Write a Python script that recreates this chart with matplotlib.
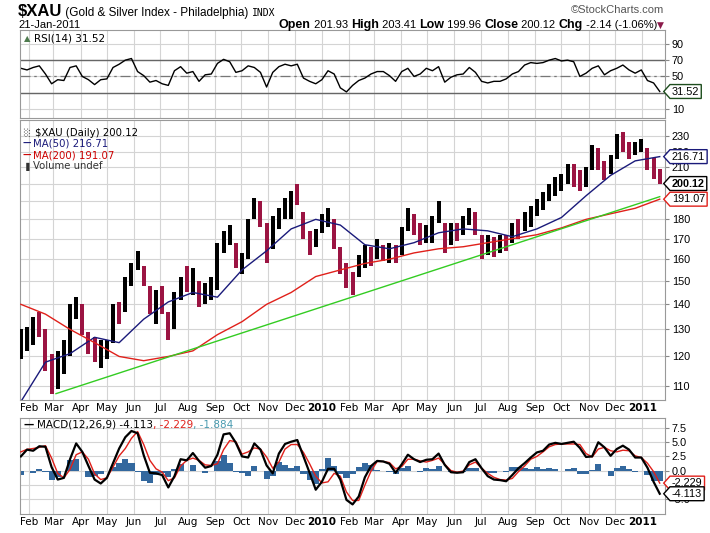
import pandas as pd
import matplotlib
matplotlib.use('Agg')
import matplotlib.pyplot as plt
from matplotlib.path import Path
from matplotlib.ticker import FixedLocator, NullLocator, FuncFormatter

# weekly samples (Fridays)
weeks = pd.date_range('2009-01-23', '2011-01-21', freq='W-FRI')

high = [130, 131, 135, 137, 130, 121, 122, 126, 140, 143,
        140, 129, 127, 126, 126, 140, 141, 152, 158, 164,
        157, 148, 146, 148, 137, 145, 152, 157, 156, 150,
        149, 152, 168, 174, 177, 168, 163, 180, 192, 190,
        178, 182, 186, 192, 196, 200, 184, 174, 175, 183,
        186, 180, 166, 158, 154, 162, 167, 166, 170, 167,
        168, 167, 176, 186, 183, 178, 177, 182, 190, 178,
        178, 178, 182, 186, 184, 172, 172, 171, 172, 172,
        178, 180, 184, 187, 191, 195, 200, 204, 206, 212,
        212, 208, 210, 224, 222, 214, 218, 232, 233, 226,
        226, 228, 222, 216, 209]
low = [119, 122, 124, 127, 115, 107.5, 109, 114, 120, 134,
       128, 121, 118, 116, 119, 125, 132, 137, 148, 155,
       148, 136, 132, 136, 126, 130, 142, 145, 144, 139,
       140, 142, 146, 163, 167, 156, 153, 160, 180, 176,
       158, 165, 175, 180, 180, 188, 170, 162, 166, 173,
       176, 165, 153, 147, 144, 152, 156, 157, 160, 159,
       158, 158, 162, 174, 172, 167, 168, 168, 178, 163,
       167, 169, 172, 177, 172, 160, 162, 161, 163, 164,
       168, 170, 174, 176, 182, 185, 190, 193, 196, 200,
       198, 196, 198, 208, 208, 202, 206, 215, 220, 215,
       218, 220, 208, 203, 199.96]
close = [122, 127, 131, 128, 118, 112, 115, 121, 136, 138,
         130, 125, 122, 123, 123, 138, 136, 150, 156, 159,
         151, 140, 143, 137, 129, 143, 150, 148, 150, 143,
         147, 148, 165, 170, 172, 158, 158, 178, 188, 180,
         162, 180, 183, 190, 192, 190, 172, 165, 173, 181,
         183, 168, 156, 149, 148, 160, 164, 163, 168, 162,
         165, 160, 174, 182, 175, 172, 176, 180, 185, 170,
         176, 172, 180, 182, 176, 162, 168, 163, 170, 166,
         176, 174, 182, 185, 189, 192, 197, 200, 204, 208,
         205, 199, 207, 220, 211, 208, 214, 228, 224, 220,
         224, 225, 210, 208, 200.12]

# moving averages, every fourth week
ma_dates = weeks[::4]
ma50 = [105, 118, 121, 127, 125, 134, 141, 145, 143, 155, 164, 175, 180, 177,
        167, 165, 168, 173, 175, 174, 171, 175, 181, 193, 205, 214, 216.71]
ma200 = [140, 136, 130, 125, 120, 118.5, 120, 122, 128, 133, 140, 145, 152, 155,
         158, 160, 163, 165, 166, 168, 170, 172, 175.5, 180, 183, 186, 191.07]

trend_dates = pd.to_datetime(['2009-03-04', '2011-01-21'])
trend_vals = [107.5, 192.5]

rsi = [60, 58, 61, 63, 53, 41, 46, 45, 61, 63,
       50, 46, 40, 46, 47, 61, 65, 70, 72, 56,
       51, 43, 45, 41, 39, 57, 62, 54, 56, 44,
       52, 53, 66, 71, 68, 55, 57, 63, 61, 55,
       37, 55, 62, 65, 63, 65, 48, 44, 41, 46,
       57, 53, 36, 31, 39, 45, 48, 53, 56, 56,
       51, 44, 56, 60, 50, 53, 60, 57, 62, 43,
       49, 52, 53, 61, 55, 44, 42, 44, 44, 47,
       53, 56, 64, 67, 66, 67, 70, 72, 69, 70,
       68, 50, 54, 60, 63, 52, 57, 60, 64, 58,
       54, 58, 45, 42, 31.52]

macd = [2.5, 3.7, 3.5, 4.3, 4.2, 0.6, -1.6, -1.3, 2.0, 4.8,
        3.3, 0.8, -1.6, -2.3, -1.3, 1.3, 3.9, 5.9, 7.0, 6.6,
        2.7, -0.4, -0.5, -0.8, -3.0, -1.0, 2.0, 1.8, 3.1, 1.7,
        0.5, 0.8, 2.8, 6.4, 6.6, 4.9, 2.5, 2.3, 4.8, 3.7,
        0.9, -0.5, 3.0, 4.7, 5.1, 5.4, 2.5, -0.4, -3.4, -2.0,
        0.3, 0.3, -1.6, -5.2, -6.0, -4.6, -1.2, 0.8, 1.7, 1.6,
        1.2, -0.4, 1.1, 2.8, 2.0, 1.5, 1.9, 2.0, 3.0, 1.0,
        -0.3, -0.4, -0.3, 1.5, 2.0, 0.4, -1.0, -1.6, -1.7, -1.9,
        -0.8, 0.4, 1.3, 2.3, 3.2, 3.5, 4.6, 4.9, 4.7, 4.9,
        5.1, 4.0, 2.4, 2.5, 5.0, 4.1, 2.6, 3.8, 4.4, 3.7,
        2.3, 2.3, 0.5, -2.0, -4.113]
signal = [3.3, 3.75, 3.9, 4.1, 4.4, 2.2, -0.5, -1.3, 0.2, 2.8,
          3.3, 2.0, -0.6, -1.6, -1.3, 0.6, 2.6, 3.9, 5.7, 6.9,
          4.6, 1.8, 0.3, -0.3, -1.8, -1.3, 0.8, 1.8, 2.2, 1.8,
          1.0, 0.9, 1.2, 3.7, 5.3, 5.1, 2.9, 3.3, 4.0, 3.8,
          2.4, 0.4, 1.5, 3.8, 4.6, 4.6, 3.2, 1.2, -1.0, -2.2,
          -2.0, -0.5, -1.0, -3.8, -5.3, -5.3, -2.6, -0.1, 1.6, 1.6,
          1.4, 0.3, 0.7, 2.0, 2.0, 1.7, 1.5, 1.8, 2.2, 1.1,
          0.0, -0.3, -0.1, 1.0, 1.5, 0.4, -0.5, -1.2, -1.6, -1.7,
          -1.4, -0.2, 0.8, 2.0, 2.5, 3.3, 4.2, 4.6, 4.7, 4.7,
          4.7, 4.6, 3.0, 2.4, 3.8, 4.1, 3.5, 3.3, 3.6, 3.5,
          2.6, 2.3, 1.3, -0.2, -2.229]
hist = [m - s for m, s in zip(macd, signal)]

price_ticks = [110, 120, 130, 140, 150, 160, 170, 180, 190, 200, 210, 220, 230]
price_hidden = [190, 200]
rsi_ticks = [10, 30, 50, 70, 90]
macd_ticks = [-5.0, -2.5, 0.0, 2.5, 5.0, 7.5]

UP = 'black'
DOWN = '#9b1442'
NAVY = '#1a1a7a'
RED = '#e0201a'
GREEN = '#33cc22'
HISTC = '#33689e'
GRID = '#d4d4d4'

W, H = 710, 533
fig = plt.figure(figsize=(7.1, 5.33), dpi=100)
fig.patch.set_facecolor('white')


def px_axes(top, bottom, left=20, right=665):
    return fig.add_axes([left / W, 1 - bottom / H, (right - left) / W, (bottom - top) / H])


ax_rsi = px_axes(30, 118)
ax = px_axes(120, 400)
ax_m = px_axes(418, 514)

xlim = (pd.Timestamp('2009-01-22'), pd.Timestamp('2011-01-27'))
months = pd.date_range('2009-02-01', '2011-01-01', freq='MS')
month_lbl = [str(d.year) if d.month == 1 else d.strftime('%b') for d in months]


def tagbox(x0, y0, width, height, mutation_size):
    pad = 0.18 * mutation_size
    x0 -= pad
    y0 -= pad
    width += 2 * pad
    height += 2 * pad
    x1, y1 = x0 + width, y0 + height
    tip = x0 - height * 0.45
    verts = [(tip, y0 + height / 2), (x0, y1), (x1, y1), (x1, y0), (x0, y0), (tip, y0 + height / 2)]
    codes = [Path.MOVETO] + [Path.LINETO] * 4 + [Path.CLOSEPOLY]
    return Path(verts, codes)


def tag(a, y, text, ec, bold=False):
    a.annotate(text, xy=(1, y), xycoords=('axes fraction', 'data'),
               xytext=(5, 0), textcoords='offset points', va='center', ha='left',
               fontsize=7.8, family='Liberation Sans',
               fontweight='bold' if bold else 'normal',
               bbox=dict(boxstyle=tagbox, fc='white', ec=ec, lw=1.0),
               annotation_clip=False, zorder=20)


for a in (ax_rsi, ax, ax_m):
    a.set_xlim(*xlim)
    a.set_xticks(months)
    a.grid(True, color=GRID, lw=0.8)
    a.set_axisbelow(True)
    a.yaxis.tick_right()
    a.tick_params(axis='y', labelsize=7.8, length=3, color='#888888', pad=2)
    a.tick_params(axis='x', length=0, pad=2)
    for s in a.spines.values():
        s.set_color('#999999')
        s.set_linewidth(0.8)

# RSI panel
ax_rsi.plot(weeks, rsi, color='black', lw=1.0)
ax_rsi.set_ylim(-1, 107)
ax_rsi.set_yticks(rsi_ticks)
ax_rsi.set_yticklabels(['' if v == 30 else str(v) for v in rsi_ticks])
for lvl in (70, 30):
    ax_rsi.axhline(lvl, color='#666666', lw=1.0, zorder=1)
ax_rsi.axhline(50, color='#777777', lw=0.9, ls='-.', dashes=(8, 3, 2, 3), zorder=1)
ax_rsi.set_xticklabels([])
ax_rsi.text(0.006, 0.9, '\u25b2', transform=ax_rsi.transAxes, fontsize=6, color='#4d7a4d', va='center')
ax_rsi.text(0.022, 0.9, 'RSI(14) 31.52', transform=ax_rsi.transAxes, fontsize=7.5, va='center')
tag(ax_rsi, rsi[-1], '31.52', '#1d4d1d')

# price panel: one bar per week spanning its range
rng = [h - l for h, l in zip(high, low)]
bar_cols = [UP] + [UP if c >= p else DOWN for p, c in zip(close[:-1], close[1:])]
ax.bar(weeks, rng, bottom=low, width=4.5, color=bar_cols, zorder=3)
ax.plot(ma_dates, ma50, color=NAVY, lw=1.0, zorder=4)
ax.plot(ma_dates, ma200, color=RED, lw=1.0, zorder=4)
ax.plot(trend_dates, trend_vals, color=GREEN, lw=1.0, zorder=5)
ax.set_yscale('log')
ax.set_ylim(105.5, 241.5)
ax.yaxis.set_major_locator(FixedLocator(price_ticks))
ax.yaxis.set_minor_locator(NullLocator())
ax.yaxis.set_major_formatter(FuncFormatter(lambda v, p: '' if round(v) in price_hidden else '%d' % round(v)))
ax.yaxis.set_minor_formatter(FuncFormatter(lambda v, p: ''))
ax.set_xticklabels(month_lbl, fontsize=7.5)

leg = [('$XAU (Daily) 200.12', 'black', '\u2591'), ('MA(50) 216.71', NAVY, '\u2014'),
       ('MA(200) 191.07', '#cc0000', '\u2014'), ('Volume undef', '#333333', '\u2590')]
for i, (t, c, ic) in enumerate(leg):
    yy = 0.955 - i * 0.04
    ax.text(0.004, yy, ic, transform=ax.transAxes, fontsize=6, color=c if i else '#333333',
            va='center', fontweight='bold')
    ax.text(0.02 if i else 0.024, yy, t.replace('$', r'\$'), transform=ax.transAxes,
            fontsize=7.3, color=c, va='center')
tag(ax, 216.71, '216.71', NAVY)
tag(ax, 200.12, '200.12', 'black', bold=True)
tag(ax, 191.07, '191.07', RED)

# MACD panel
ax_m.bar(weeks, hist, width=7, color=HISTC, zorder=2)
ax_m.plot(weeks, signal, color=RED, lw=1.0, zorder=3)
ax_m.plot(weeks, macd, color='black', lw=1.6, zorder=4)
ax_m.set_ylim(-7.7, 9.3)
ax_m.set_yticks(macd_ticks)
ax_m.set_yticklabels(['' if v == -2.5 else '%.1f' % v for v in macd_ticks])
ax_m.set_xticklabels(month_lbl, fontsize=7.5)
ax_m.text(0.006, 0.93, '\u2014', transform=ax_m.transAxes, fontsize=7.5, fontweight='bold', va='center')
mt = ax_m.text(0.026, 0.93, 'MACD(12,26,9) -4.113', transform=ax_m.transAxes, fontsize=7.5, va='center')
tag(ax_m, -2.229, '-2.229', RED)
tag(ax_m, -4.113, '-4.113', 'black')

for a in (ax_rsi, ax, ax_m):
    for lab in a.get_yticklabels():
        lab.set_family('Liberation Sans')
for a in (ax, ax_m):
    for lab in a.get_xticklabels():
        if lab.get_text().isdigit():
            lab.set_fontweight('bold')

# header and text pieces laid out with the renderer
r = fig.canvas.get_renderer()


def run_text(pieces, x, y, align='left'):
    objs = []
    cur = x
    for s, kw in pieces:
        t = fig.text(cur / W, 1 - y / H, s, va='baseline', ha='left', **kw)
        cur += t.get_window_extent(r).width
        objs.append(t)
    if align == 'right':
        shift = x - cur
        for t in objs:
            px, py = t.get_position()
            t.set_position((px + shift / W, py))
    return objs


narrow = ['Liberation Sans Narrow', 'Liberation Sans', 'DejaVu Sans']
run_text([('\\$XAU', dict(fontsize=12, fontweight='bold', family=narrow)),
          (' (Gold & Silver Index - Philadelphia) ', dict(fontsize=8.5, family=narrow)),
          ('INDX', dict(fontsize=7, family='DejaVu Sans Mono'))], 18, 16)
fig.text(664 / W, 1 - 13 / H, '\u00a9StockCharts.com', ha='right', va='baseline',
         fontsize=8, color='#555555', family=narrow)
fig.text(18 / W, 1 - 28 / H, '21-Jan-2011', ha='left', va='baseline', fontsize=8, family=narrow)
B = dict(fontsize=9, fontweight='bold', family=narrow)
N = dict(fontsize=8, family=narrow)
run_text([('Open', B), (' 201.93 ', N), ('High', B), (' 203.41 ', N), ('Low', B),
          (' 199.96 ', N), ('Close', B), (' 200.12 ', N), ('Chg', B), (' -2.14 (-1.06%)', N),
          ('\u25bc', dict(fontsize=6.5, color='#8b1a4a'))], 664, 28, align='right')

# MACD legend with coloured parts
mx = ax_m.transAxes.transform((0.026, 0.93))[0] + mt.get_window_extent(r).width
yy = ax_m.transAxes.transform((0, 0.93))[1]
t2 = fig.text(mx / W, yy / H, ', -2.229', color=RED, fontsize=7.5, va='center')
mx += t2.get_window_extent(r).width
fig.text(mx / W, yy / H, ', -1.884', color='#4a9bb0', fontsize=7.5, va='center')

fig.savefig('out.png', dpi=100)
